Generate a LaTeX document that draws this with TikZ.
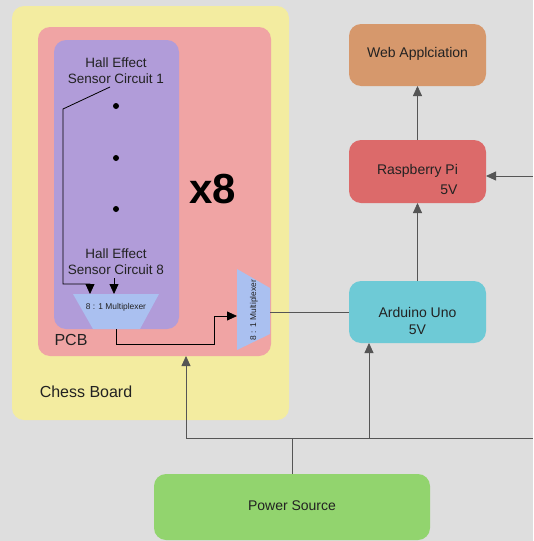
\documentclass[tikz,border=0pt]{standalone}
\usepackage{fontspec}
\setmainfont{Liberation Sans}
\usetikzlibrary{arrows.meta}
\definecolor{bgc}{HTML}{DEDEDE}
\definecolor{yel}{HTML}{F3ECA0}
\definecolor{pnk}{HTML}{F0A4A4}
\definecolor{prp}{HTML}{B19CD9}
\definecolor{mux}{HTML}{AAC0F0}
\definecolor{webc}{HTML}{D6986C}
\definecolor{rpi}{HTML}{DC6A6A}
\definecolor{ard}{HTML}{6ECAD6}
\definecolor{pwr}{HTML}{92D46E}
\definecolor{txt}{HTML}{222222}
\definecolor{wire}{HTML}{555555}
\tikzset{
  box/.style={rounded corners=12pt, inner sep=0pt, outer sep=0pt, draw=none},
  lbl/.style={text=txt, inner sep=0pt, font=\fontsize{14}{16}\selectfont},
  inwire/.style={draw=black, line width=0.8pt},
  outwire/.style={draw=wire, line width=0.8pt},
  tip/.style={-{Triangle[length=10pt,width=9pt]}}
}
\begin{document}
\begin{tikzpicture}[x=1pt,y=-1pt]
\useasboundingbox (0,0) rectangle (533,541);
\fill[bgc] (0,0) rectangle (533,541);

% containers
\node[box, fill=yel, minimum width=277pt, minimum height=414pt] (chess) at (150.5,213) {};
\node[box, fill=pnk, minimum width=233pt, minimum height=329pt] (pcb) at (154.5,191.5) {};
\node[box, fill=prp, minimum width=125pt, minimum height=289pt] (sens) at (116.5,184.5) {};

\node[lbl, font=\fontsize{16}{18}\selectfont] (pcblbl) at (71,340) {PCB};
\node[lbl, font=\fontsize{16}{18}\selectfont] (chesslbl) at (86,392) {Chess Board};

% sensor circuits
\node[lbl, align=center, font=\fontsize{13.5}{16}\selectfont] (hall1) at (116,71) {Hall Effect\\Sensor Circuit 1};
\node[lbl, align=center, font=\fontsize{13.5}{16}\selectfont] (hall8) at (116,262) {Hall Effect\\Sensor Circuit 8};
\fill[black] (116,106) circle (3pt) (116,158) circle (3pt) (116,209) circle (3pt);
\node[lbl, text=black, font=\bfseries\fontsize{42}{42}\selectfont] (x8) at (213,189) {x8};

% multiplexer 1
\fill[mux] (73,294) -- (159,294) -- (140,329) -- (93,329) -- cycle;
\node[lbl, font=\fontsize{8.4}{9}\selectfont] (mux1) at (116,307) {8 : 1 Multiplexer};
% multiplexer 2
\fill[mux] (237,269) -- (270,288) -- (270,334) -- (237,350) -- cycle;
\node[lbl, rotate=90, font=\fontsize{8.4}{9}\selectfont] (mux2) at (254,310) {8 : 1 Multiplexer};

\coordinate (h1out) at (110,87);
\coordinate (h8out) at (114,278);
\coordinate (m1in1) at (90,294);
\coordinate (m1in2) at (114,294);
\coordinate (m1out) at (116,329);
\coordinate (m2in) at (237,316);
\coordinate (m2out) at (270,312);

% right side boxes
\node[box, fill=webc, minimum width=137pt, minimum height=62pt] (web) at (417.5,55) {};
\node[lbl] (weblbl) at (417.5,54) {Web Applciation};
\node[box, fill=rpi, minimum width=137pt, minimum height=63pt] (rpi) at (417.5,171.5) {};
\node[lbl] (rpilbl) at (417.5,171) {Raspberry Pi};
\node[lbl] (rpiv) at (449,190) {5V};
\node[box, fill=ard, minimum width=137pt, minimum height=62pt] (ardu) at (417.5,312) {};
\node[lbl] (ardlbl) at (417.5,312) {Arduino Uno};
\node[lbl] (ardv) at (417.5,330) {5V};
\node[box, fill=pwr, minimum width=276pt, minimum height=66pt] (power) at (292,507) {};
\node[lbl] (pwrlbl) at (292,506) {Power Source};

% inner wiring
\draw[inwire, tip] (h1out) -- (63,109) -- (63,284) -- (90,284) -- (m1in1);
\draw[inwire, tip] (h8out) -- (m1in2);
\draw[inwire, tip] (m1out) -- (116,344) -- (214,344) -- (214,316) -- (m2in);

% outer wiring
\draw[outwire] (m2out) -- (m2out -| ardu.west);
\draw[outwire, tip] (ardu.north) -- (rpi.south);
\draw[outwire, tip] (rpi.north) -- (web.south);
\coordinate (rin) at (533,176);
\draw[outwire, tip] (rin) -- (rin -| rpi.east);
\coordinate (pj) at (292,438);
\coordinate (pl) at (186,438);
\coordinate (pr) at (533,438);
\coordinate (pa) at (369,438);
\draw[outwire] (power.north) -- (pj);
\draw[outwire] (pl) -- (pr);
\draw[outwire, tip] (pl) -- (pl |- pcb.south);
\draw[outwire, tip] (pa) -- (pa |- ardu.south);
\end{tikzpicture}
\end{document}
